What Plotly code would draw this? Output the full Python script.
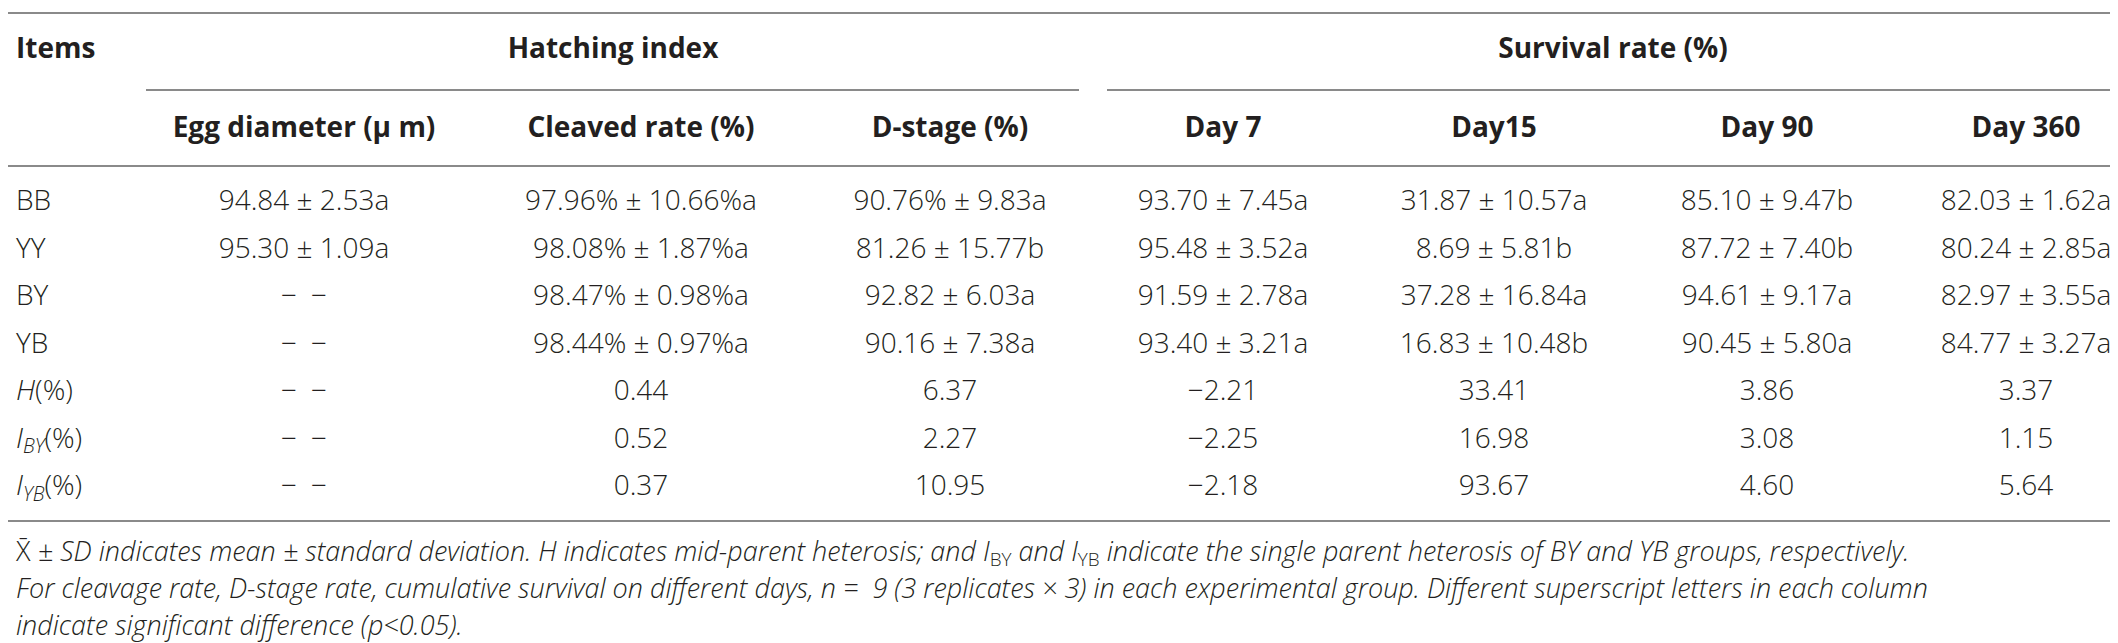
import plotly.graph_objects as go

items = ["BB", "YY", "BY", "YB", "<i>H</i>(%)", "<i>I<sub>BY</sub></i>(%)", "<i>I<sub>YB</sub></i>(%)"]

group_headers = ["Hatching index", "Survival rate (%)"]
col_headers = ["Egg diameter (\u03bc m)", "Cleaved rate (%)", "D-stage (%)",
               "Day 7", "Day15", "Day 90", "Day 360"]

NA = "\u2212\u2002\u2212"
egg_diameter = ["94.84 \u00b1 2.53a", "95.30 \u00b1 1.09a", NA, NA, NA, NA, NA]
cleaved_rate = ["97.96% \u00b1 10.66%a", "98.08% \u00b1 1.87%a", "98.47% \u00b1 0.98%a",
                "98.44% \u00b1 0.97%a", "0.44", "0.52", "0.37"]
d_stage = ["90.76% \u00b1 9.83a", "81.26 \u00b1 15.77b", "92.82 \u00b1 6.03a",
           "90.16 \u00b1 7.38a", "6.37", "2.27", "10.95"]
day7 = ["93.70 \u00b1 7.45a", "95.48 \u00b1 3.52a", "91.59 \u00b1 2.78a",
        "93.40 \u00b1 3.21a", "\u22122.21", "\u22122.25", "\u22122.18"]
day15 = ["31.87 \u00b1 10.57a", "8.69 \u00b1 5.81b", "37.28 \u00b1 16.84a",
         "16.83 \u00b1 10.48b", "33.41", "16.98", "93.67"]
day90 = ["85.10 \u00b1 9.47b", "87.72 \u00b1 7.40b", "94.61 \u00b1 9.17a",
         "90.45 \u00b1 5.80a", "3.86", "3.08", "4.60"]
day360 = ["82.03 \u00b1 1.62a", "80.24 \u00b1 2.85a", "82.97 \u00b1 3.55a",
          "84.77 \u00b1 3.27a", "3.37", "1.15", "5.64"]

footnotes = [
    "X\u0304 <i>\u00b1 SD indicates mean \u00b1 standard deviation. H indicates mid-parent heterosis; and I</i>"
    "<sub>BY</sub><i> and I</i><sub>YB</sub><i> indicate the single parent heterosis of BY and YB groups, respectively.</i>",
    "<i>For cleavage rate, D-stage rate, cumulative survival on different days, n =  9 (3 replicates \u00d7 3) "
    "in each experimental group. Different superscript letters in each column</i>",
    "<i>indicate significant difference (p<0.05).</i>",
]

columns = [egg_diameter, cleaved_rate, d_stage, day7, day15, day90, day360]

# layout (pixel space)
W, H = 2118, 643
col_x = [296, 633, 942, 1215, 1486, 1759, 2018]
group_x = [605, 1605]
row_y0, row_step = 195, 47.5
row_y = [row_y0 + i * row_step for i in range(len(items))]
left_x = 8
FONT = "Open Sans"
TXT = "#231f20"
LINE = "#8a8a8a"


def text_trace(x, y, text, pos, size, weight):
    return go.Scatter(
        x=x, y=y, text=text, mode="text", textposition=pos, cliponaxis=False,
        textfont=dict(family=FONT, size=size, color=TXT, weight=weight),
        hoverinfo="skip", showlegend=False)


fig = go.Figure()

# body cells
fig.add_trace(text_trace([left_x] * len(items), row_y, items, "middle right", 28, 300))
for cx, vals in zip(col_x, columns):
    fig.add_trace(text_trace([cx] * len(vals), row_y, vals, "middle center", 28, 300))

# headers
fig.add_trace(text_trace([left_x], [43], ["Items"], "middle right", 28, 700))
fig.add_trace(text_trace(group_x, [43] * len(group_x), group_headers, "middle center", 28, 700))
fig.add_trace(text_trace(col_x, [122] * len(col_x), col_headers, "middle center", 28, 700))

# footnotes
fig.add_trace(text_trace([left_x] * len(footnotes), [546, 583, 620], footnotes,
                         "middle right", 27, 300))

# rules
rules = [(0, 2113, 5), (138, 1071, 82), (1099, 2113, 82), (0, 2113, 158), (0, 2113, 513)]
for x0, x1, y in rules:
    fig.add_shape(type="line", x0=x0, x1=x1, y0=y, y1=y, xref="x", yref="y",
                  line=dict(color=LINE, width=2))

fig.update_layout(
    width=W, height=H, margin=dict(l=0, r=0, t=0, b=0),
    paper_bgcolor="white", plot_bgcolor="white",
    xaxis=dict(range=[0, W], visible=False, fixedrange=True),
    yaxis=dict(range=[H, 0], visible=False, fixedrange=True),
)

fig.write_html("out.html")
